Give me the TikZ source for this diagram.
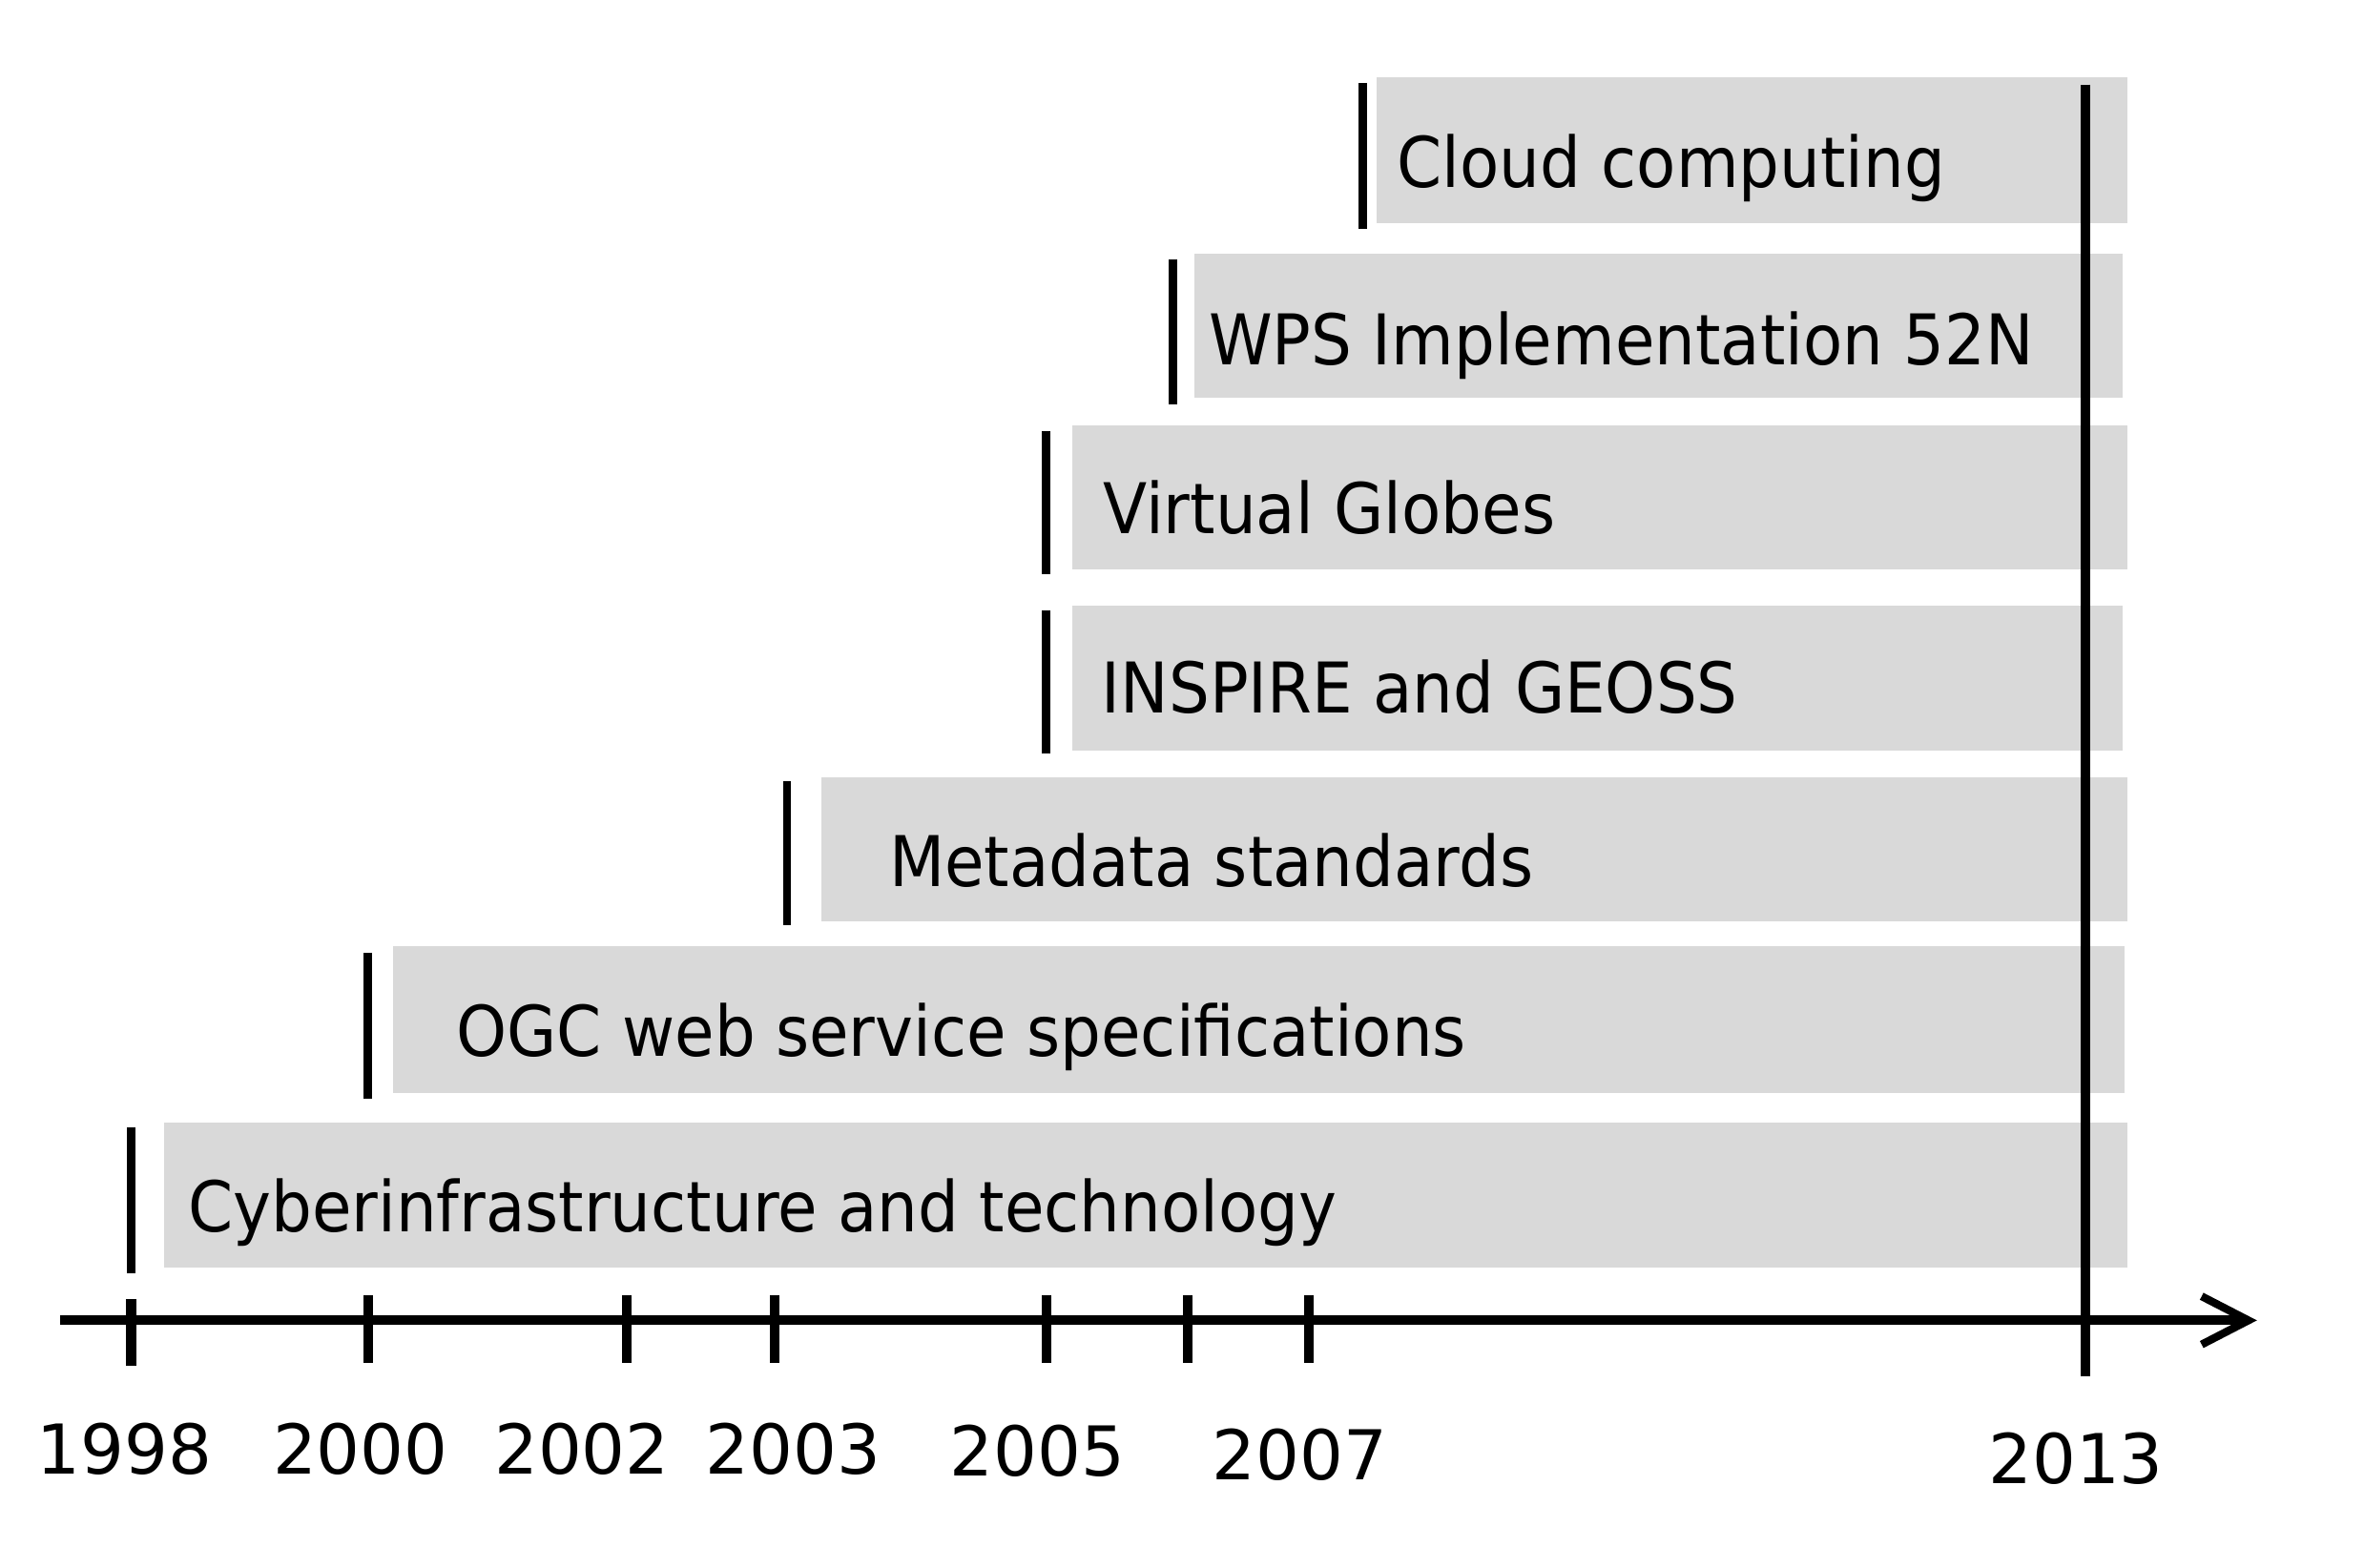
\documentclass[tikz,border=0pt]{standalone}
\usepackage{fontspec}
\setmainfont{DejaVu Sans}
\newfontfamily\barfont[FakeStretch=0.92]{DejaVu Sans}
\usetikzlibrary{arrows.meta}
\definecolor{barfill}{HTML}{D9D9D9}
\begin{document}
\begin{tikzpicture}[x=0.25pt,y=-0.25pt,
  bar/.style={fill=barfill,draw=none},
  lbl/.style={anchor=base west,inner sep=0pt,font=\barfont\fontsize{11.6}{14}\selectfont},
  yr/.style={anchor=base,inner sep=0pt,font=\fontsize{11.4}{14}\selectfont},
  startmark/.style={line width=1.4pt},
  tickmark/.style={line width=1.6pt},
  axisline/.style={line width=1.6pt,-{Straight Barb[length=7.75pt,width=8pt,line width=1.3pt]}},
  nowline/.style={line width=1.6pt}]
\useasboundingbox (0,0) rectangle (1568,1040);

% bars
\path[bar] (913,51) rectangle (1411,148);
\path[bar] (792,168) rectangle (1408,264);
\path[bar] (711,282) rectangle (1411,378);
\path[bar] (711,402) rectangle (1408,498);
\path[bar] (545,516) rectangle (1411,611);
\path[bar] (261,628) rectangle (1409,725);
\path[bar] (109,745) rectangle (1411,841);

% labels
\node[lbl] (cloud) at (926,124.5) {Cloud computing};
\node[lbl] (wps) at (801,242) {WPS Implementation 52N};
\node[lbl] (vg) at (731,354) {Virtual Globes};
\node[lbl] (insp) at (730,473) {INSPIRE and GEOSS};
\node[lbl] (meta) at (589,588) {Metadata standards};
\node[lbl] (ogc) at (302,701) {OGC web service specifications};
\node[lbl] (cyber) at (124,817) {Cyberinfrastructure and technology};

% start markers
\draw[startmark] (904,55) -- (904,152);
\draw[startmark] (778,172) -- (778,268);
\draw[startmark] (694,286) -- (694,381);
\draw[startmark] (694,405) -- (694,500);
\draw[startmark] (522,518) -- (522,614);
\draw[startmark] (244,632) -- (244,729);
\draw[startmark] (87,748) -- (87,845);

% axis
\coordinate (axL) at (40,876);
\coordinate (axR) at (1497,876);
\draw[axisline] (axL) -- (axR);

% ticks
\draw[tickmark] (87,862) -- (87,906);
\draw[tickmark] (244,859) -- (244,904);
\draw[tickmark] (416,859) -- (416,904);
\draw[tickmark] (514,859) -- (514,904);
\draw[tickmark] (694,859) -- (694,904);
\draw[tickmark] (788,859) -- (788,904);
\draw[tickmark] (868,859) -- (868,904);

% 2013 line
\coordinate (nowT) at (1383.5,56);
\coordinate (nowB) at (1383.5,913);
\draw[nowline] (nowT) -- (nowB);

% years
\node[yr] (y1998) at (82.7,978) {1998};
\node[yr] (y2000) at (239,978) {2000};
\node[yr] (y2002) at (386,978) {2002};
\node[yr] (y2003) at (526,978) {2003};
\node[yr] (y2005) at (688,979) {2005};
\node[yr] (y2007) at (862,982) {2007};
\node[yr] (y2013) at (1377,984) {2013};
\end{tikzpicture}
\end{document}
